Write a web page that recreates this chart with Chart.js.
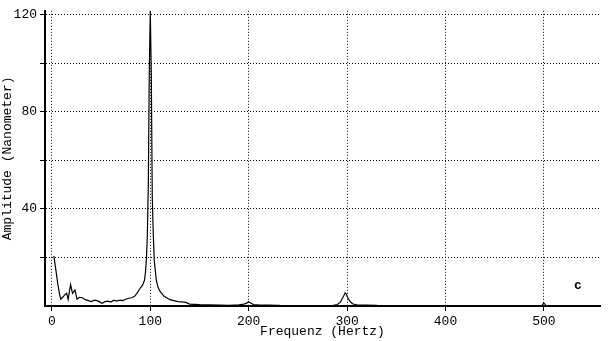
<!DOCTYPE html>
<html>
<head>
<meta charset="utf-8">
<script src="https://cdn.jsdelivr.net/npm/chart.js@4.4.1/dist/chart.umd.min.js"></script>
<style>
  body { margin: 0; background: #fff; }
  canvas { display: block; }
</style>
</head>
<body>
<canvas id="spektrum" width="608" height="341"></canvas>
<script>
// Spektrum: Frequenz (Hz) und Amplitude (nm)
const freq = [2, 4, 6, 8, 9, 11, 13, 15, 16.5, 19, 21, 23.5, 25.5, 28, 31, 34, 37, 40, 43, 46,
    49, 51, 54, 57, 60, 63, 66, 69, 72, 75, 78, 81, 84, 86, 88, 90, 92, 94, 95, 96,
    97, 98, 99, 100, 101, 102, 103, 104, 105, 106, 107, 108, 110, 112, 114, 117, 120, 124, 128, 132,
    136, 140, 145, 150, 160, 170, 180, 190, 195, 198, 200, 202, 205, 210, 220, 230, 240, 285, 290, 293,
    295, 297, 298, 299, 300, 302, 304, 306, 310, 320, 330, 335, 495, 498, 499, 500, 501, 502, 505, 550];
const amp = [20.6, 15, 9, 4.5, 2.8, 3.6, 4.6, 5.2, 2.7, 8.8, 5.2, 6.5, 2.8, 3.6, 3.4, 2.6, 2.2, 1.8, 2.4, 2.2,
    1.6, 1.1, 1.8, 2.0, 1.6, 2.4, 2.0, 2.4, 2.2, 2.8, 3.2, 3.4, 4.0, 5.0, 6.2, 7.5, 8.5, 10.5, 13.5, 19,
    29, 50, 98, 121.5, 96, 45, 30, 19, 15, 11, 9, 7.5, 6, 5, 4, 3.3, 2.6, 2.2, 1.8, 1.7,
    1.5, 0.8, 0.7, 0.6, 0.5, 0.4, 0.3, 0.5, 0.8, 1.2, 1.8, 1.2, 0.6, 0.5, 0.4, 0.3, 0, 0.2, 0.6, 1.5,
    3, 4.5, 5.4, 5, 4, 2.5, 1.4, 0.8, 0.5, 0.4, 0.3, 0, 0, 0.3, 0.8, 1.2, 0.8, 0.3, 0, 0];

const xTicks = [0, 100, 200, 300, 400, 500];
const yTicks = [20, 40, 60, 80, 100, 120];
const yLabels = [40, 80, 120];

const mono = "'Liberation Mono', 'DejaVu Sans Mono', monospace";

// kleines "c" rechts unten im Diagramm
const cornerLabel = {
    id: 'cornerLabel',
    afterDraw(chart) {
        const ctx = chart.ctx;
        const area = chart.chartArea;
        ctx.save();
        ctx.font = 'bold 13px ' + mono;
        ctx.fillStyle = '#000';
        ctx.textAlign = 'center';
        ctx.textBaseline = 'middle';
        ctx.fillText('c', area.right - 22, area.bottom - 20);
        ctx.restore();
    }
};

const ctx = document.querySelector('#spektrum').getContext('2d');
const chart = new Chart(ctx, {
    type: 'line',
    data: {
        datasets: [{
            data: freq.map((f, i) => ({ x: f, y: amp[i] })),
            borderColor: '#000',
            borderWidth: 1.2,
            pointRadius: 0,
            tension: 0,
            fill: false
        }]
    },
    options: {
        responsive: false,
        animation: false,
        layout: {
            padding: { top: 5, right: 8, left: 0, bottom: 0 }
        },
        plugins: {
            legend: { display: false },
            tooltip: { enabled: false }
        },
        scales: {
            x: {
                type: 'linear',
                min: -7,
                max: 557,
                afterBuildTicks: function(scale) {
                    scale.ticks = xTicks.map(v => ({ value: v }));
                },
                afterFit: function(scale) {
                    scale.height = 35;
                },
                grid: {
                    color: '#000',
                    lineWidth: 1,
                    tickLength: 5,
                    tickColor: '#000'
                },
                border: {
                    color: '#000',
                    width: 2,
                    dash: [1, 2]
                },
                ticks: {
                    color: '#000',
                    font: { family: mono, size: 13 },
                    padding: 3,
                    maxRotation: 0,
                    autoSkip: false
                },
                title: {
                    display: true,
                    text: 'Frequenz (Hertz)',
                    color: '#000',
                    font: { family: mono, size: 13 },
                    padding: { top: 0, bottom: 2 }
                }
            },
            y: {
                min: 0,
                max: 121.6,
                afterBuildTicks: function(scale) {
                    scale.ticks = yTicks.map(v => ({ value: v }));
                },
                afterFit: function(scale) {
                    scale.width = 45;
                },
                grid: {
                    color: '#000',
                    lineWidth: 1,
                    tickLength: 5,
                    tickColor: '#000'
                },
                border: {
                    color: '#000',
                    width: 2,
                    dash: [1, 2]
                },
                ticks: {
                    color: '#000',
                    font: { family: mono, size: 13 },
                    padding: 3,
                    autoSkip: false,
                    callback: function(value) {
                        return yLabels.includes(value) ? String(value) : '';
                    }
                },
                title: {
                    display: true,
                    text: 'Amplitude (Nanometer)',
                    color: '#000',
                    font: { family: mono, size: 13 },
                    padding: { top: 0, bottom: 0 }
                }
            }
        }
    },
    plugins: [cornerLabel]
});
</script>
</body>
</html>
